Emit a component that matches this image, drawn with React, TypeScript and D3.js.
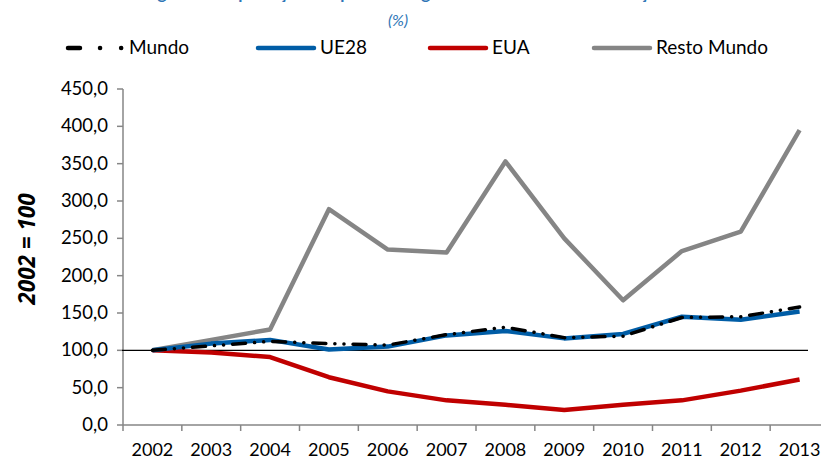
import React from 'react';
import * as d3 from 'd3';

const years = ['2002', '2003', '2004', '2005', '2006', '2007', '2008', '2009', '2010', '2011', '2012', '2013'];
const mundo = [100, 106, 112, 109, 107, 121, 131, 117, 119, 144, 145, 158];
const ue28 = [100, 109, 114, 101, 105, 120, 126, 116, 122, 145, 141, 152];
const eua = [100, 97, 91, 64, 45, 33, 27, 20, 27, 33, 46, 61];
const restoMundo = [100, 114, 128, 289, 235, 231, 353, 250, 167, 233, 259, 395];
const yTicks = [0, 50, 100, 150, 200, 250, 300, 350, 400, 450];

const series = [
  { name: 'Resto Mundo', values: restoMundo, color: '#858585', dash: null },
  { name: 'EUA', values: eua, color: '#C00000', dash: null },
  { name: 'UE28', values: ue28, color: '#005DA6', dash: null },
  { name: 'Mundo', values: mundo, color: '#000000', dash: '13 9 0.1 9 0.1 9' },
];

const legendItems = [
  { name: 'Mundo', color: '#000000', x: 68 },
  { name: 'UE28', color: '#005DA6', x: 258 },
  { name: 'EUA', color: '#C00000', x: 430 },
  { name: 'Resto Mundo', color: '#858585', x: 594 },
];

const font = 'Lato, "Open Sans", sans-serif';

export default function App() {
  const left = 123;
  const bottom = 425;

  // band scale spans past the right edge, as in the cropped original
  const x = d3.scaleBand().domain(years).range([left, 829]).padding(0);
  const cx = (yr: string) => (x(yr) as number) + x.bandwidth() / 2;
  const y = d3.scaleLinear().domain([0, 450]).range([bottom, 89]);
  const fmt = (v: number) => d3.format('.1f')(v).replace('.', ',');

  const line = d3
    .line<number>()
    .x((_, i) => cx(years[i]))
    .y((d) => y(d));

  return (
    <svg width={821} height={459} style={{ position: 'absolute', left: 0, top: 0, background: '#fff' }}>
      {/* title (cut off at the top, as in the original) */}
      <text x={405} y={-1} textAnchor="middle" fontFamily={font} fontWeight="bold" fontSize={17} fill="#2E75B6">
        Figura 3 - Exportações de produtos agrícolas e alimentares - evolução
      </text>
      <text x={398} y={26} textAnchor="middle" fontFamily={font} fontStyle="italic" fontSize={16} fill="#2E75B6">
        (%)
      </text>

      {/* legend */}
      {legendItems.map((d) => (
        <g key={d.name}>
          {d.name === 'Mundo' ? (
            <line x1={d.x} x2={d.x + 58} y1={48} y2={48} stroke="#000" strokeWidth={4.5}
              strokeLinecap="round" strokeDasharray="12 20 0.1 21 0.1 40" />
          ) : (
            <line x1={d.x} x2={d.x + 56} y1={48} y2={48} stroke={d.color} strokeWidth={4.5} strokeLinecap="round" />
          )}
          <text x={d.x + (d.name === 'Mundo' ? 61 : 62)} y={54} fontFamily={font} fontSize={19} fill="#000">
            {d.name}
          </text>
        </g>
      ))}

      {/* y axis */}
      <line x1={left} x2={left} y1={y(450)} y2={bottom} stroke="#868686" strokeWidth={1.5} />
      {yTicks.map((t) => (
        <g key={t}>
          <line x1={left - 6} x2={left} y1={y(t)} y2={y(t)} stroke="#868686" strokeWidth={1.5} />
          <text x={108} y={y(t) + 6} textAnchor="end" fontFamily={font} fontSize={18.5} fill="#000">
            {fmt(t)}
          </text>
        </g>
      ))}
      <text transform={`translate(35,249) rotate(-90)`} textAnchor="middle"
        fontFamily='"Open Sans", sans-serif' fontWeight="bold" fontStyle="italic" fontSize={22.5} fill="#000">
        2002 = 100
      </text>

      {/* x axis */}
      <line x1={left} x2={821} y1={bottom} y2={bottom} stroke="#868686" strokeWidth={1.5} />
      {years.map((yr) => (
        <g key={yr}>
          <line x1={x(yr) as number} x2={x(yr) as number} y1={bottom} y2={bottom + 6} stroke="#868686" strokeWidth={1.5} />
          <text x={cx(yr)} y={456} textAnchor="middle" fontFamily={font} fontSize={18} fill="#000">
            {yr}
          </text>
        </g>
      ))}

      {/* 100 reference line */}
      <line x1={left - 1} x2={808} y1={y(100)} y2={y(100)} stroke="#000" strokeWidth={1.3} />

      {/* series */}
      {series.map((s) => (
        <path key={s.name} d={line(s.values) as string} fill="none" stroke={s.color}
          strokeWidth={s.name === 'Mundo' ? 3.5 : 4.5} strokeLinejoin="round"
          strokeLinecap={s.dash ? 'round' : 'butt'} strokeDasharray={s.dash || undefined} />
      ))}
    </svg>
  );
}
